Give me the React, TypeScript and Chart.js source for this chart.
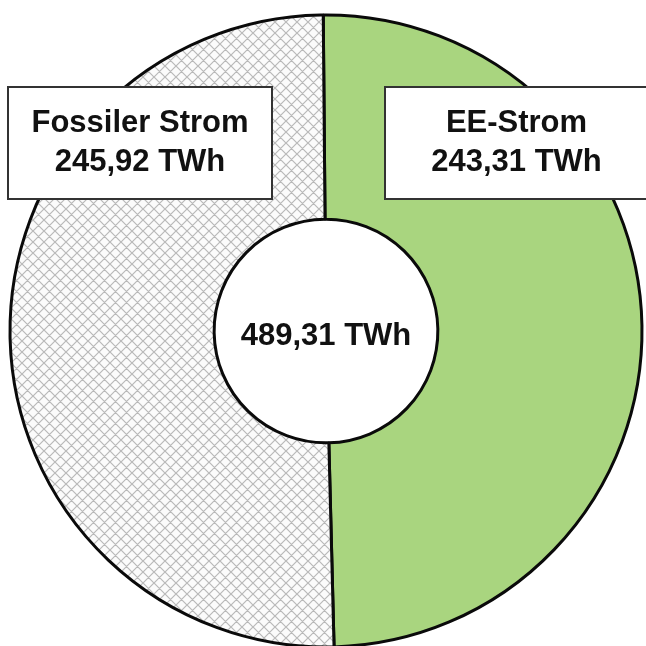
import React, { useEffect, useRef } from 'react';
import { Chart, registerables } from 'chart.js';

Chart.register(...registerables);

// ---- data ----
const CATEGORIES = ['EE-Strom', 'Fossiler Strom'];
const VALUES_TWH = [243.31, 245.92];
const TOTAL_TWH = 489.31;
const UNIT = 'TWh';

// ---- layout / style ----
const CANVAS_SIZE = 660;
const GREEN = '#a9d57f';
const FONT = 'bold 31px "Liberation Sans", Arial, sans-serif';
// label boxes, indexed like CATEGORIES
const BOXES = [
  { x: 385, y: 87, w: 264, h: 112, cx: 516.5 },
  { x: 8, y: 87, w: 264, h: 112, cx: 140 },
];

const fmt = (v: number) => v.toFixed(2).replace('.', ',') + ' ' + UNIT;

function makeHatch(): CanvasPattern | string {
  const s = 11;
  const c = document.createElement('canvas');
  c.width = s;
  c.height = s;
  const g = c.getContext('2d');
  if (!g) return '#eeeeee';
  g.fillStyle = '#fbfbfb';
  g.fillRect(0, 0, s, s);
  g.strokeStyle = '#b9b9b9';
  g.lineWidth = 1.2;
  g.beginPath();
  for (let k = -1; k <= 1; k++) {
    g.moveTo(-2, -2 + k * s);
    g.lineTo(s + 2, s + 2 + k * s);
    g.moveTo(-2, s + 2 + k * s);
    g.lineTo(s + 2, -2 + k * s);
  }
  g.stroke();
  const p = g.createPattern(c, 'repeat');
  return p || '#eeeeee';
}

const labelPlugin = {
  id: 'labelBoxes',
  afterDatasetsDraw(chart: any) {
    const ctx: CanvasRenderingContext2D = chart.ctx;
    const labels = chart.data.labels as string[];
    const values = chart.data.datasets[0].data as number[];
    ctx.save();
    labels.forEach((lab, i) => {
      const b = BOXES[i];
      ctx.fillStyle = '#ffffff';
      ctx.fillRect(b.x, b.y, b.w, b.h);
      ctx.strokeStyle = '#333333';
      ctx.lineWidth = 2;
      ctx.strokeRect(b.x, b.y, b.w, b.h);
      ctx.fillStyle = '#111111';
      ctx.font = FONT;
      ctx.textAlign = 'center';
      ctx.textBaseline = 'alphabetic';
      ctx.fillText(lab, b.cx, 132);
      ctx.fillText(fmt(values[i]), b.cx, 171);
    });
    const meta = chart.getDatasetMeta(0);
    const arc = meta.data[0];
    ctx.fillStyle = '#111111';
    ctx.font = FONT;
    ctx.textAlign = 'center';
    ctx.fillText(fmt(TOTAL_TWH), arc.x, 345);
    ctx.restore();
  },
};

export default function App() {
  const ref = useRef<HTMLCanvasElement>(null);

  useEffect(() => {
    if (!ref.current) return;
    const chart = new Chart(ref.current, {
      type: 'doughnut',
      data: {
        labels: CATEGORIES,
        datasets: [
          {
            data: VALUES_TWH,
            backgroundColor: [GREEN, makeHatch()],
            borderColor: '#0a0a0a',
            borderWidth: 3,
            hoverOffset: 0,
          },
        ],
      },
      options: {
        responsive: false,
        animation: false,
        rotation: -0.5,
        radius: 316,
        cutout: '35.4%',
        layout: { padding: { left: 0, right: 8, top: 2, bottom: 0 } },
        plugins: {
          legend: { display: false },
          tooltip: { enabled: false },
        },
        events: [],
      },
      plugins: [labelPlugin],
    });
    return () => chart.destroy();
  }, []);

  return (
    <div
      style={{
        position: 'fixed',
        left: 0,
        top: 0,
        width: 646,
        height: 646,
        overflow: 'hidden',
        background: '#ffffff',
      }}
    >
      <canvas
        ref={ref}
        width={CANVAS_SIZE}
        height={CANVAS_SIZE}
        style={{ width: CANVAS_SIZE, height: CANVAS_SIZE, display: 'block' }}
      />
    </div>
  );
}
